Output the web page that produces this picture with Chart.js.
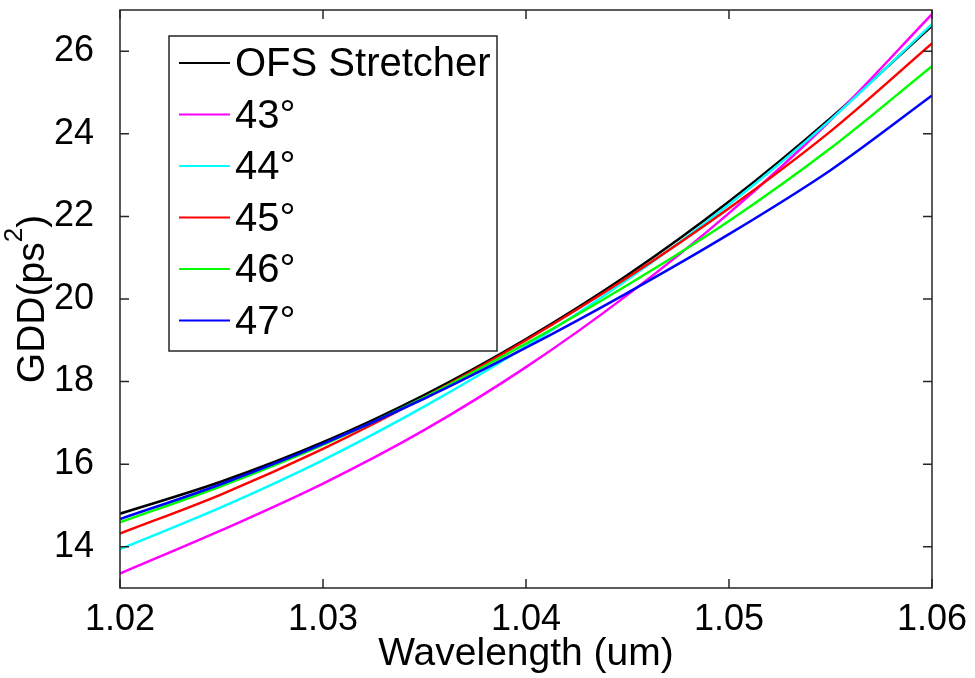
<!DOCTYPE html>
<html>
<head>
<meta charset="utf-8">
<script src="https://cdn.jsdelivr.net/npm/chart.js@4"></script>
<style>
  html, body { margin: 0; padding: 0; background: #fff; }
  #wrap { width: 975px; height: 678px; }
</style>
</head>
<body>
<div id="wrap"><canvas id="chart" width="975" height="678"></canvas></div>
<script>
// wavelength samples (um)
const wavelengths = [1.02, 1.025, 1.03, 1.035, 1.04, 1.045, 1.05, 1.055, 1.06]

// GDD (ps^2)
const ofsStretcher = [14.80, 15.58, 16.53, 17.68, 19.03, 20.58, 22.36, 24.38, 26.62]
const angle43 = [13.35, 14.40, 15.53, 16.83, 18.35, 20.10, 22.08, 24.33, 26.90]
const angle44 = [13.94, 14.96, 16.10, 17.40, 18.85, 20.47, 22.29, 24.34, 26.66]
const angle45 = [14.32, 15.27, 16.37, 17.62, 19.00, 20.52, 22.20, 24.06, 26.19]
const angle46 = [14.59, 15.47, 16.47, 17.62, 18.92, 20.34, 21.89, 23.65, 25.64]
const angle47 = [14.67, 15.52, 16.49, 17.59, 18.82, 20.15, 21.57, 23.12, 24.93]

const seriesLabels = ['OFS Stretcher', '43°', '44°', '45°', '46°', '47°']
const seriesColors = ['#000000', '#ff00ff', '#00ffff', '#ff0000', '#00ff00', '#0000ff']
const seriesValues = [ofsStretcher, angle43, angle44, angle45, angle46, angle47]

const xTicks = [1.02, 1.03, 1.04, 1.05, 1.06]
const yTicks = [14, 16, 18, 20, 22, 24, 26]

const FONT = "'Liberation Sans', Arial, Helvetica, sans-serif"
const FRAME = '#262626'

// box round the plot, with ticks pointing inward on all four sides
const framePlugin = {
  id: 'frame',
  afterDatasetsDraw(chart) {
    const { ctx, chartArea: a, scales } = chart
    const len = 9
    ctx.save()
    ctx.strokeStyle = FRAME
    ctx.lineWidth = 1.5
    ctx.beginPath()
    xTicks.forEach((v) => {
      const px = scales.x.getPixelForValue(v)
      ctx.moveTo(px, a.bottom); ctx.lineTo(px, a.bottom - len)
      ctx.moveTo(px, a.top); ctx.lineTo(px, a.top + len)
    })
    yTicks.forEach((v) => {
      const py = scales.y.getPixelForValue(v)
      ctx.moveTo(a.left, py); ctx.lineTo(a.left + len, py)
      ctx.moveTo(a.right, py); ctx.lineTo(a.right - len, py)
    })
    ctx.stroke()
    ctx.strokeRect(a.left, a.top, a.right - a.left, a.bottom - a.top)
    ctx.restore()
  },
}

// y title drawn by hand so the 2 can sit as a real superscript
const yTitlePlugin = {
  id: 'yTitle',
  afterDraw(chart) {
    const { ctx, chartArea: a } = chart
    const main = 'GDD(ps'
    const sup = '2'
    const tail = ')'
    ctx.save()
    ctx.fillStyle = '#000'
    ctx.textBaseline = 'alphabetic'
    ctx.font = `39px ${FONT}`
    const wMain = ctx.measureText(main).width
    const wTail = ctx.measureText(tail).width
    ctx.font = `26px ${FONT}`
    const wSup = ctx.measureText(sup).width
    const total = wMain + wSup + wTail
    ctx.translate(44, (a.top + a.bottom) / 2)
    ctx.rotate(-Math.PI / 2)
    let x = -total / 2
    ctx.font = `39px ${FONT}`
    ctx.fillText(main, x, 0)
    x += wMain
    ctx.font = `26px ${FONT}`
    ctx.fillText(sup, x, -22)
    x += wSup
    ctx.font = `39px ${FONT}`
    ctx.fillText(tail, x, 0)
    ctx.restore()
  },
}

// legend box in the upper left of the plot
const boxLegendPlugin = {
  id: 'boxLegend',
  afterDraw(chart) {
    const { ctx, chartArea: a } = chart
    const x0 = a.left + 49
    const y0 = a.top + 26
    const w = 328
    const rowH = 51.5
    const h = 315
    ctx.save()
    ctx.fillStyle = '#fff'
    ctx.fillRect(x0, y0, w, h)
    ctx.strokeStyle = FRAME
    ctx.lineWidth = 1.5
    ctx.strokeRect(x0, y0, w, h)
    ctx.font = `40px ${FONT}`
    ctx.textBaseline = 'middle'
    chart.data.datasets.forEach((ds, i) => {
      const cy = y0 + 27 + i * rowH
      ctx.strokeStyle = ds.borderColor
      ctx.lineWidth = 2
      ctx.beginPath()
      ctx.moveTo(x0 + 10, cy)
      ctx.lineTo(x0 + 61, cy)
      ctx.stroke()
      ctx.fillStyle = '#000'
      ctx.fillText(ds.label, x0 + 66, cy + 2)
    })
    ctx.restore()
  },
}

const datasets = seriesValues.map((values, i) => ({
  label: seriesLabels[i],
  data: wavelengths.map((x, j) => ({ x, y: values[j] })),
  borderColor: seriesColors[i],
  backgroundColor: seriesColors[i],
  borderWidth: 2.5,
  pointRadius: 0,
  cubicInterpolationMode: 'monotone',
  order: seriesValues.length - i,
}))

new Chart(document.getElementById('chart'), {
  type: 'line',
  data: { datasets },
  plugins: [framePlugin, yTitlePlugin, boxLegendPlugin],
  options: {
    responsive: false,
    animation: false,
    layout: { padding: { top: 10, right: 43, left: 0, bottom: 0 } },
    plugins: {
      legend: { display: false },
      tooltip: { enabled: false },
    },
    scales: {
      x: {
        type: 'linear',
        min: 1.02,
        max: 1.06,
        afterBuildTicks: (axis) => {
          axis.ticks = xTicks.map((v) => ({ value: v }))
        },
        afterFit: (axis) => {
          axis.height = 90
        },
        grid: { display: false },
        border: { display: false },
        ticks: {
          color: '#000',
          font: { family: FONT, size: 36 },
          padding: 2,
          maxRotation: 0,
          callback: (v) => v.toFixed(2),
        },
        title: {
          display: true,
          text: 'Wavelength (um)',
          color: '#000',
          font: { family: FONT, size: 39 },
          padding: { top: 0, bottom: 0 },
        },
      },
      y: {
        type: 'linear',
        min: 13,
        max: 27,
        afterBuildTicks: (axis) => {
          axis.ticks = yTicks.map((v) => ({ value: v }))
        },
        afterFit: (axis) => {
          axis.width = 120
          axis.paddingTop = 0
          axis.paddingBottom = 0
        },
        grid: { display: false },
        border: { display: false },
        ticks: {
          color: '#000',
          font: { family: FONT, size: 36 },
          padding: 18,
        },
      },
    },
  },
})
</script>
</body>
</html>
